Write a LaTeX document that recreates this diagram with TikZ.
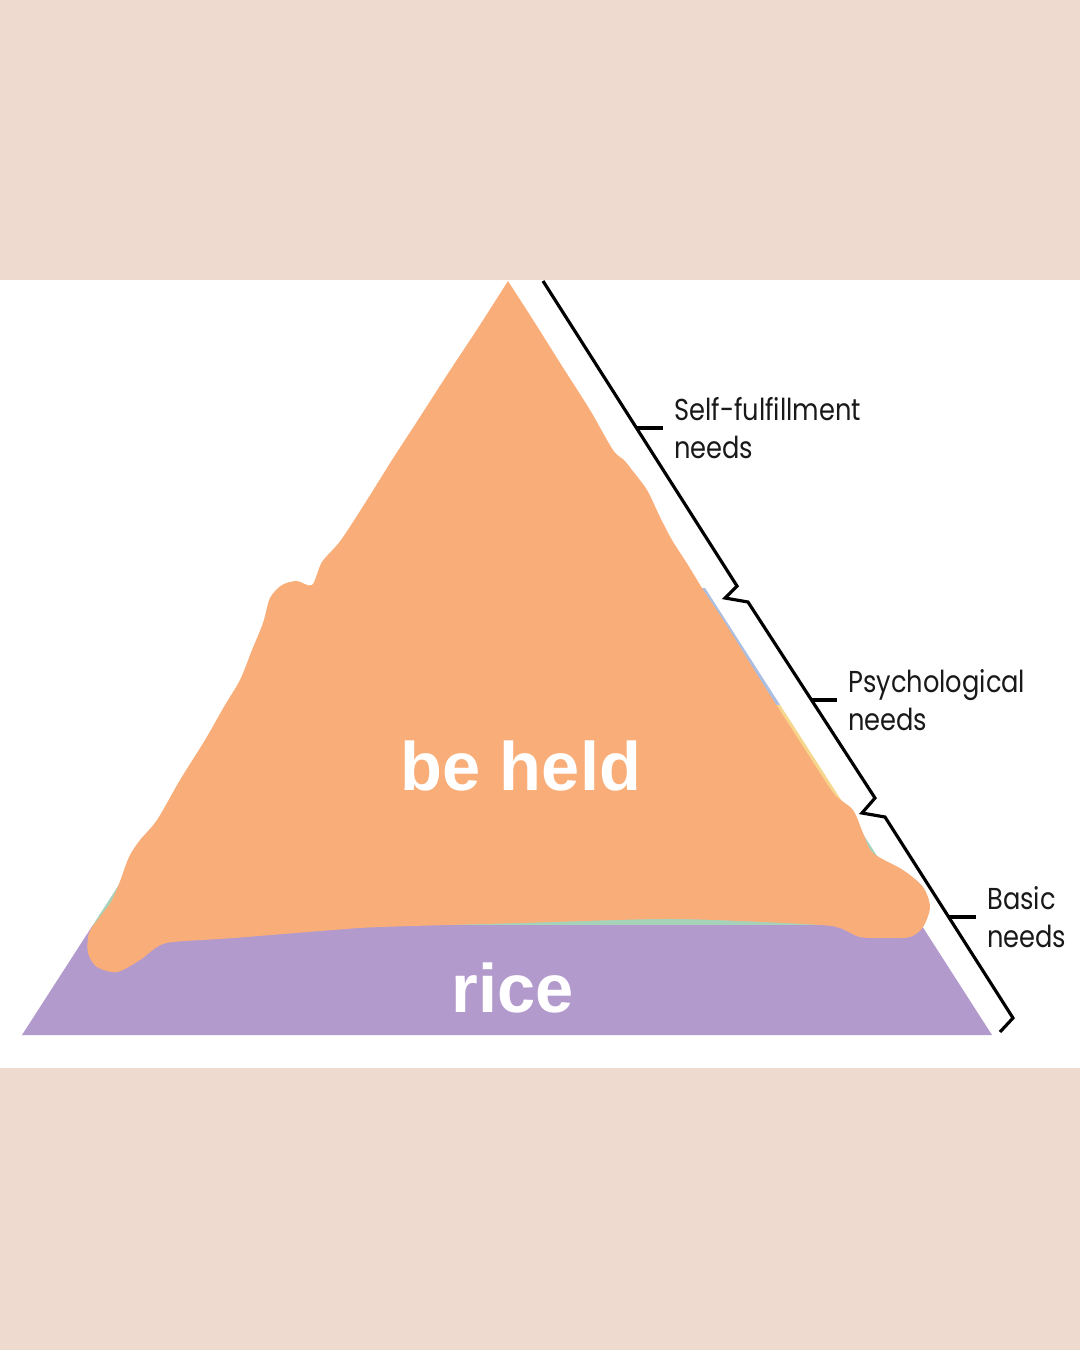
\documentclass[tikz,border=0pt]{standalone}
\usepackage{fontspec}
\setmainfont{Liberation Sans}
\newfontfamily\labelfont[FakeStretch=0.85]{Poppins}
\usepackage{tikz}
\usetikzlibrary{calc,positioning}

\definecolor{bgpink}{RGB}{239,218,208}
\definecolor{blobor}{RGB}{249,174,121}
\definecolor{riceviolet}{RGB}{179,154,205}
\definecolor{layblue}{RGB}{170,190,226}
\definecolor{layyellow}{RGB}{246,214,140}
\definecolor{laygreen}{RGB}{166,210,186}

\tikzset{
  needlabel/.style={anchor=west, align=left, inner sep=3pt,
    font=\labelfont\fontsize{8.6}{10.6}\selectfont, text=black!90},
  bigword/.style={text=white, font=\bfseries\fontsize{19.5}{22}\selectfont},
  bracketline/.style={line width=0.9pt, line join=miter}
}

\begin{document}
\begin{tikzpicture}[x=0.01cm, y=-0.01cm]
\useasboundingbox (0,0) rectangle (1080,1350);
\fill[bgpink] (0,0) rectangle (1080,1350);
\fill[white] (0,280) rectangle (1080,1068);
%\draw[help lines, step=50] (0,0) grid (1080,1350);

% pyramid layers
\begin{scope}
\clip (508,281) -- (992,1035) -- (22,1035) -- cycle;
\fill[layblue] (0,588) rectangle (1080,705);
\fill[layyellow] (0,705) rectangle (1080,815);
\fill[laygreen] (0,815) rectangle (1080,925);
\fill[riceviolet] (0,925) rectangle (1080,1036);
\end{scope}

% painted-over part
\fill[blobor] (508,281) -- plot[smooth, tension=0.5] coordinates {
  (508,281) (535,323) (562,366) (590,410) (613,450) (624,460) (632,470)
  (647,490) (660,517) (672,540) (688,565) (702,588) (720,615) (737,642)
  (753,668) (770,695) (786,720) (802,745) (818,770) (835,795) (853,810)
  (863,833) (873,853) (903,870) (923,887) (930,907) (923,927) (910,937)
  (887,938) (860,937) (840,928) (820,925) (740,921) (660,919) (520,923)
  (380,927) (333,930) (233,938) (173,942) (157,947) (140,960) (117,972)
  (97,967) (88,953) (89,933) (99,918) (111,902) (119,884) (129,857)
  (140,840) (157,820) (180,780) (205,740) (225,705) (240,680) (252,650)
  (263,623) (270,598) (282,585) (297,581) (312,585) (322,562) (341,540)
  (367,500) (392,460) (418,420) (447,375) (478,328) (508,281)} -- cycle;

\node[bigword] (held) at (521,766) {be held};
\node[bigword] (rice) at (513,988) {rice};

% brackets
\draw[bracketline] (543,281) -- (737,586) -- (725,598) -- (748,602)
  -- (875,798) -- (862,813) -- (885,817) -- (1013,1018) -- (1000,1032);

\coordinate (tself) at (637,428);
\coordinate (tpsy) at (812,700);
\coordinate (tbasic) at (949,917);

\node[needlabel] (selfn) at (663,428) {Self-fulfillment\\needs};
\node[needlabel] (psyn) at (837,700) {Psychological\\needs};
\node[needlabel] (basicn) at (976,917) {Basic\\needs};

\draw[bracketline] (tself) -- (selfn.west);
\draw[bracketline] (tpsy) -- (psyn.west);
\draw[bracketline] (tbasic) -- (basicn.west);

\end{tikzpicture}
\end{document}
